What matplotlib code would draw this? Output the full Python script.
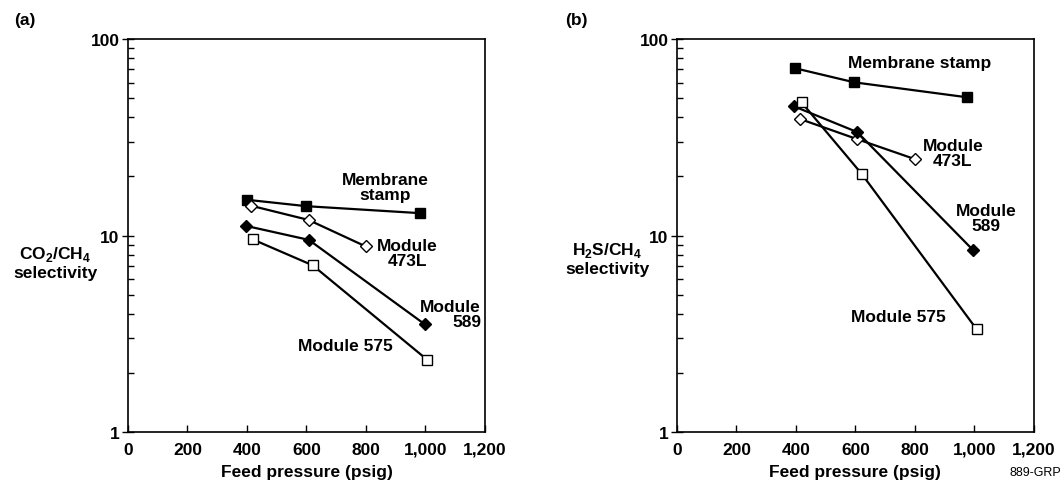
import matplotlib
matplotlib.use('Agg')
import matplotlib.pyplot as plt
from matplotlib.ticker import FixedLocator, NullFormatter, FuncFormatter

plt.rcParams['font.family'] = ['Liberation Sans', 'DejaVu Sans']
plt.rcParams['font.weight'] = 'bold'
plt.rcParams['mathtext.fontset'] = 'custom'
plt.rcParams['mathtext.rm'] = 'Liberation Sans:bold'
plt.rcParams['mathtext.bf'] = 'Liberation Sans:bold'

# Feed pressure (psig) and selectivity
# (a) CO2/CH4
p_stamp_a = [400, 600, 980]
s_stamp_a = [15.2, 14.1, 13.0]
p_473_a = [412, 607, 799]
s_473_a = [14.2, 12.0, 8.8]
p_589_a = [396, 608, 998]
s_589_a = [11.2, 9.5, 3.53]
p_575_a = [419, 621, 1006]
s_575_a = [9.56, 7.05, 2.33]

# (b) H2S/CH4
p_stamp_b = [397, 596, 976]
s_stamp_b = [71, 60.2, 50.5]
p_473_b = [413, 604, 799]
s_473_b = [39.2, 31.0, 24.5]
p_589_b = [394, 606, 996]
s_589_b = [45.4, 33.6, 8.41]
p_575_b = [419, 621, 1007]
s_575_b = [47.6, 20.6, 3.34]

x_ticks = [0, 200, 400, 600, 800, 1000, 1200]
x_labels = ['0', '200', '400', '600', '800', '1,000', '1,200']

fs = 12.5      # all bold text


def setup_axes(ax):
    ax.set_xlim(0, 1200)
    ax.set_yscale('log')
    ax.set_ylim(1, 100)
    ax.set_xticks(x_ticks)
    ax.set_xticklabels(x_labels, fontsize=fs, fontweight='bold')
    ax.yaxis.set_major_locator(FixedLocator([1, 10, 100]))
    ax.yaxis.set_major_formatter(FuncFormatter(lambda v, pos: '%d' % round(v)))
    ax.yaxis.set_minor_locator(FixedLocator([m * d for d in (1, 10) for m in range(2, 10)]))
    ax.yaxis.set_minor_formatter(NullFormatter())
    ax.tick_params(axis='x', direction='in', length=5, width=1, pad=7, labelsize=fs)
    ax.tick_params(axis='y', which='major', direction='inout', length=9, width=1, pad=1.5, labelsize=fs)
    ax.tick_params(axis='y', which='minor', direction='in', length=4, width=1)
    for lab in ax.get_yticklabels():
        lab.set_fontweight('bold')
    for sp in ax.spines.values():
        sp.set_linewidth(1.2)
    ax.set_xlabel('Feed pressure (psig)', fontsize=fs, fontweight='bold', labelpad=5)


def draw_series(ax, p, s, marker, filled, ms):
    ax.plot(p, s, color='black', lw=1.6, marker=marker, ms=ms,
            mfc='black' if filled else 'white', mec='black', mew=1.0, zorder=3)


fig = plt.figure(figsize=(10.61, 4.85), dpi=100)
ax1 = fig.add_axes([0.1206, 0.1072, 0.3365, 0.8103])
ax2 = fig.add_axes([0.638, 0.1072, 0.3365, 0.8103])

for ax in (ax1, ax2):
    setup_axes(ax)

draw_series(ax1, p_stamp_a, s_stamp_a, 's', True, 7.3)
draw_series(ax1, p_473_a, s_473_a, 'D', False, 6)
draw_series(ax1, p_589_a, s_589_a, 'D', True, 6.5)
draw_series(ax1, p_575_a, s_575_a, 's', False, 7.5)

draw_series(ax2, p_stamp_b, s_stamp_b, 's', True, 7.3)
draw_series(ax2, p_473_b, s_473_b, 'D', False, 6)
draw_series(ax2, p_589_b, s_589_b, 'D', True, 6.5)
draw_series(ax2, p_575_b, s_575_b, 's', False, 7.5)

kw = dict(fontsize=fs, fontweight='bold', va='center', linespacing=1.05)
ax1.text(0.72, 0.623, 'Membrane\nstamp', transform=ax1.transAxes, ha='center', **kw)
ax1.text(0.782, 0.455, 'Module\n473L', transform=ax1.transAxes, ha='center', **kw)
ax1.text(0.989, 0.300, 'Module\n589', transform=ax1.transAxes, ha='right', multialignment='right', **kw)
ax1.text(0.608, 0.219, 'Module 575', transform=ax1.transAxes, ha='center', **kw)

ax2.text(0.681, 0.939, 'Membrane stamp', transform=ax2.transAxes, ha='center', **kw)
ax2.text(0.773, 0.71, 'Module\n473L', transform=ax2.transAxes, ha='center', **kw)
ax2.text(0.866, 0.545, 'Module\n589', transform=ax2.transAxes, ha='center', **kw)
ax2.text(0.619, 0.295, 'Module 575', transform=ax2.transAxes, ha='center', **kw)

fig.text(55 / 1061, 1 - 263 / 485, 'CO$_2$/CH$_4$\nselectivity', ha='center', va='center',
         fontsize=fs, fontweight='bold', linespacing=1.1)
fig.text(607 / 1061, 1 - 259 / 485, 'H$_2$S/CH$_4$\nselectivity', ha='center', va='center',
         fontsize=fs, fontweight='bold', linespacing=1.1)

fig.text(25 / 1061, 1 - 20 / 485, '(a)', ha='center', va='center', fontsize=fs, fontweight='bold')
fig.text(576 / 1061, 1 - 20 / 485, '(b)', ha='center', va='center', fontsize=fs, fontweight='bold')
fig.text(1061 / 1061, 1 - 473 / 485, '889-GRP', ha='right', va='center', fontsize=9, fontweight='normal')

fig.savefig('out.png', dpi=100)
